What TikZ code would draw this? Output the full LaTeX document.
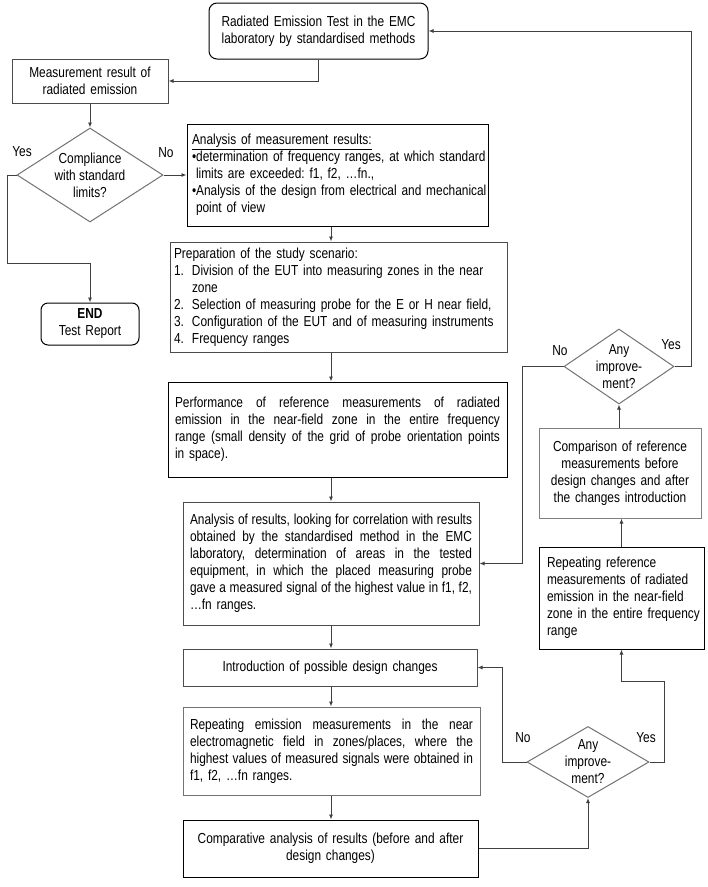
\documentclass[tikz,border=0pt]{standalone}
\usepackage{fontspec}
\setmainfont{Liberation Sans}[FakeStretch=0.82]
\usetikzlibrary{shapes.geometric,arrows.meta}
\newcommand\fs{\fontsize{14.5}{17}\selectfont\frenchspacing}
\newcommand\itm[1]{\makebox[18pt][l]{#1}}
\newcommand\jl[2]{\leavevmode\hbox to #1{\spaceskip=\fontdimen2\font plus 1fil\relax #2}}
\begin{document}
\begin{tikzpicture}[x=1pt,y=-1pt,
  every node/.style={font=\fs},
  box/.style={rectangle, draw=black, line width=1pt, inner ysep=0pt},
  dia/.style={diamond, draw=black!55, line width=1pt, inner sep=0pt},
  lab/.style={inner sep=0pt},
  conn/.style={draw=black!75, line width=0.9pt, -{Latex[length=5pt,width=4pt]}}]
\useasboundingbox (0,0) rectangle (708,887);
\fill[white] (0,0) rectangle (708,887);

\node[box, rounded corners=8pt, minimum width=219pt, minimum height=56pt, text width=205pt, inner xsep=7pt, align=center] (top) at (318.5,31) {Radiated Emission Test in the EMC\\laboratory by standardised methods};

\node[box, draw=black!70, minimum width=156pt, minimum height=44pt, text width=146pt, inner xsep=5pt, align=center] (meas) at (90,81) {Measurement result of\\radiated emission};

\node[dia, minimum width=146pt, minimum height=94pt] (comp) at (90,175) {};
\node[lab, align=center] (comptxt) at (comp) {Compliance\\with standard\\limits?};

\node[box, rounded corners=7pt, minimum width=98pt, minimum height=42pt, text width=90pt, inner xsep=4pt, align=center] (end) at (90,324) {\textbf{END}\\Test Report};

\node[box, minimum width=301pt, minimum height=102pt, text width=291pt, inner xsep=5pt, align=left] (ana) at (337.5,175) {\underline{Analysis of measurement results:}\\
\mbox{•determination of frequency ranges, at which standard}\\
\hspace*{4pt}limits are exceeded: f1, f2, …fn.,\\
\mbox{•Analysis of the design from electrical and mechanical}\\
\hspace*{4pt}point of view};

\node[box, draw=black!70, minimum width=337pt, minimum height=110pt, text width=329pt, inner xsep=4pt, align=left] (prep) at (338.5,297) {Preparation of the study scenario:\\
\mbox{\itm{1.}Division of the EUT into measuring zones in the near}\\
\itm{}zone\\
\mbox{\itm{2.}Selection of measuring probe for the E or H near field,}\\
\mbox{\itm{3.}Configuration of the EUT and of measuring instruments}\\
\itm{4.}Frequency ranges};

\node[box, minimum width=339pt, minimum height=95pt, text width=325pt, inner xsep=7pt, align=left] (perf) at (337.5,429.5) {\jl{325pt}{Performance of reference measurements of radiated}\\\jl{325pt}{emission in the near-field zone in the entire frequency}\\\jl{325pt}{range (small density of the grid of probe orientation points}\\in space).};

\node[box, draw=black!70, minimum width=296pt, minimum height=123pt, text width=282pt, inner xsep=7pt, align=left] (res) at (331,563.5) {\jl{282pt}{Analysis of results, looking for correlation with results}\\\jl{282pt}{obtained by the standardised method in the EMC}\\\jl{282pt}{laboratory, determination of areas in the tested}\\\jl{282pt}{equipment, in which the placed measuring probe}\\\jl{282pt}{gave a measured signal of the highest value in f1, f2,}\\…fn ranges.};

\node[box, draw=black!70, minimum width=294pt, minimum height=37pt, text width=280pt, inner xsep=7pt, align=center] (intro) at (330,667.5) {Introduction of possible design changes};

\node[box, draw=black!55, minimum width=297pt, minimum height=88pt, text width=283pt, inner xsep=7pt, align=left] (rep) at (331.5,751) {\jl{283pt}{Repeating emission measurements in the near}\\\jl{283pt}{electromagnetic field in zones/places, where the}\\\jl{283pt}{highest values of measured signals were obtained in}\\f1, f2, …fn ranges.};

\node[box, minimum width=295pt, minimum height=57pt, text width=281pt, inner xsep=7pt, align=center] (cmpa) at (330.5,848.5) {Comparative analysis of results (before and after\\design changes)};

\node[dia, minimum width=122pt, minimum height=71pt] (low) at (588,762) {};
\node[lab, align=center] (lowtxt) at (low) {Any\\improve-\\ment?};

\node[box, minimum width=165pt, minimum height=102pt, text width=149pt, inner xsep=8pt, align=left] (rrep) at (621.5,598) {Repeating reference\\measurements of radiated\\emission in the near-field\\\mbox{zone in the entire frequency}\\range};

\node[box, draw=black!50, minimum width=162pt, minimum height=90pt, text width=150pt, inner xsep=6pt, align=center] (cmpr) at (620,473) {Comparison of reference\\measurements before\\design changes and after\\the changes introduction};

\node[dia, minimum width=110pt, minimum height=75pt] (up) at (619,366.5) {};
\node[lab, align=center] (uptxt) at (up) {Any\\improve-\\ment?};

\node[lab] (y1) at (22,152) {Yes};
\node[lab] (n1) at (166,153) {No};
\node[lab] (n2) at (560,351) {No};
\node[lab] (y2) at (671,345) {Yes};
\node[lab] (n3) at (523,738) {No};
\node[lab] (y3) at (646,738) {Yes};

\coordinate (spine) at (331,0);
\coordinate (yl) at (7,263);
\coordinate (nl) at (502,0);
\coordinate (yr) at (664,681);

\draw[conn] (up.east) -- ++(17,0) |- (top.east);
\draw[conn] (top.south) |- (meas.east);
\draw[conn] (meas.south) -- (comp.north);
\draw[conn] (comp.west) -| (yl) -| (end.north);
\draw[conn] (comp.east) -- (ana.west);
\draw[conn] (ana.south -| spine) -- (prep.north -| spine);
\draw[conn] (prep.south -| spine) -- (perf.north -| spine);
\draw[conn] (perf.south -| spine) -- (res.north -| spine);
\draw[conn] (res.south -| spine) -- (intro.north -| spine);
\draw[conn] (intro.south -| spine) -- (rep.north -| spine);
\draw[conn] (rep.south -| spine) -- (cmpa.north -| spine);
\draw[conn] (cmpa.east) -| (low.south);
\draw[conn] (low.west) -- (low.west -| nl) |- (intro.east);
\draw[conn] (low.east) -| (yr) -| (rrep.south);
\draw[conn] (rrep.north) -- (rrep.north |- cmpr.south);
\draw[conn] (up.south |- cmpr.north) -- (up.south);
\draw[conn] (up.west) -- ++(-41,0) |- (res.east);
\end{tikzpicture}
\end{document}
